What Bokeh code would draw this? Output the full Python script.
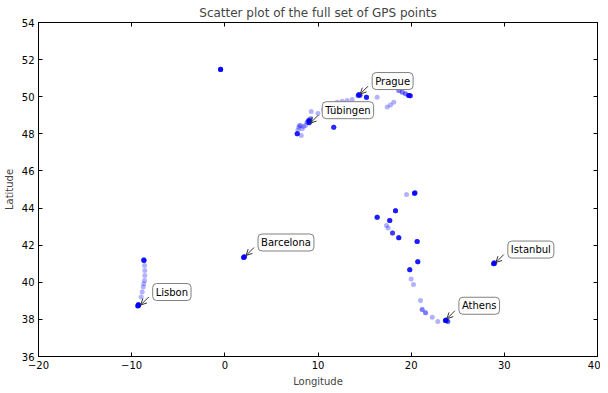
import numpy as np
from bokeh.plotting import figure
from bokeh.models import (ColumnDataSource, LinearAxis, FixedTicker, Label,
                          Arrow, OpenHead, Range1d)
from bokeh.embed import file_html
from bokeh.resources import INLINE

# GPS points: longitude, latitude, number of (overlapping) fixes at that spot
lon = [-0.45, -0.46,
       -9.30, -9.25, -9.34, -9.28,
       -8.62, -8.59, -8.59, -8.62, -8.70, -8.76, -8.87, -8.98,
       -8.68, -8.70,
       2.05, 2.10, 2.00,
       28.85, 28.95, 28.90,
       23.68, 23.75, 23.93,
       20.36, 20.42, 19.50, 18.32, 16.35, 17.70, 17.35, 17.53, 18.00, 18.67,
       20.64, 20.71, 19.85, 20.00, 20.25, 21.00, 21.18, 21.54, 22.26, 22.86,
       7.77, 7.94, 8.12, 8.30, 8.66, 8.20, 8.00, 8.45, 7.85,
       8.84, 9.01, 9.05, 9.19, 9.10, 9.27,
       11.69, 10.00, 10.60, 11.20, 12.06, 12.60, 13.13, 13.67,
       14.38, 14.50, 14.30, 15.20,
       16.35, 17.43, 17.78, 18.13,
       18.67, 19.04, 19.39, 19.74, 19.90]
lat = [51.47, 51.48,
       38.75, 38.78, 38.72, 38.80,
       40.90, 40.63, 40.37, 40.10, 39.92, 39.74, 39.47, 39.20,
       41.17, 41.22,
       41.35, 41.38, 41.33,
       41.00, 41.02, 41.05,
       37.94, 37.97, 37.89,
       44.80, 44.82, 44.73, 43.85, 43.51, 43.33, 43.06, 42.92, 42.65, 42.40,
       42.20, 41.10, 40.67, 40.17, 39.88, 39.02, 38.53, 38.36, 38.12, 37.89,
       48.00, 48.36, 48.45, 48.27, 48.45, 47.91, 48.45, 48.40, 48.20,
       48.63, 48.72, 48.60, 48.81, 48.68, 49.20,
       48.36, 49.10, 49.30, 49.50, 49.70, 49.76, 49.80, 49.85,
       50.10, 50.08, 50.05, 49.97,
       49.97, 49.44, 49.56, 49.70,
       50.34, 50.24, 50.16, 50.07, 50.05]
count = [5, 4,
         6, 4, 4, 3,
         1, 1, 1, 1, 1, 1, 1, 1,
         5, 3,
         5, 4, 3,
         5, 4, 3,
         6, 4, 3,
         6, 3, 1, 6, 6, 6, 1, 1, 4, 6,
         6, 6, 6, 1, 1, 1, 2, 2, 1, 1,
         6, 1, 1, 1, 1, 1, 1, 1, 1,
         2, 5, 5, 2, 3, 1,
         5, 1, 1, 1, 1, 1, 1, 1,
         6, 4, 2, 6,
         1, 1, 1, 1,
         2, 2, 2, 6, 5]

place_names = ["Prague", "Tübingen", "Barcelona", "Lisbon", "Istanbul", "Athens"]
place_lon = [14.42, 9.06, 2.17, -9.14, 28.98, 23.73]
place_lat = [50.09, 48.52, 41.39, 38.72, 41.01, 37.98]

x_ticks = [-20, -10, 0, 10, 20, 30, 40]
x_tick_labels = ["\u221220", "\u221210", "0", "10", "20", "30", "40"]
y_ticks = [36, 38, 40, 42, 44, 46, 48, 50, 52, 54]

X0, X1, Y0, Y1 = -20, 40, 36, 54
FW, FH = 559, 334
FONT = "DejaVu Sans"

xs = np.repeat(np.array(lon), count)
ys = np.repeat(np.array(lat), count)
src = ColumnDataSource(dict(x=xs, y=ys))

p = figure(frame_width=FW, frame_height=FH,
           x_range=Range1d(X0, X1), y_range=Range1d(Y0, Y1),
           output_backend="svg", toolbar_location=None,
           title="Scatter plot of the full set of GPS points",
           min_border_left=30, min_border_right=3,
           min_border_top=4, min_border_bottom=4)
p.background_fill_color = "white"
p.border_fill_color = "white"
p.grid.visible = False
p.outline_line_color = "black"
p.outline_line_width = 1

p.title.text_font = FONT
p.title.text_font_size = "12px"
p.title.text_font_style = "normal"
p.title.align = "center"
p.title.standoff = 6
p.title.offset = 0

def style_axis(ax, ticks, label=None, show_labels=True):
    ax.ticker = FixedTicker(ticks=ticks)
    ax.major_tick_in = 4
    ax.major_tick_out = 0
    ax.minor_tick_in = 0
    ax.minor_tick_out = 0
    ax.axis_line_color = "black"
    ax.major_tick_line_color = "black"
    ax.major_label_text_font = FONT
    ax.major_label_text_color = "black"
    if show_labels:
        ax.major_label_text_font_size = "10px"
        ax.major_label_standoff = 4
    else:
        ax.major_label_overrides = {t: "" for t in ticks}
        ax.major_label_text_color = None
        ax.major_label_text_font_size = "1px"
        ax.major_label_standoff = 0
    if label:
        ax.axis_label = label
        ax.axis_label_text_font = FONT
        ax.axis_label_text_font_size = "10px"
        ax.axis_label_text_font_style = "normal"
        ax.axis_label_standoff = 4

style_axis(p.xaxis[0], x_ticks, "Longitude")
p.xaxis[0].major_label_overrides = {t: s for t, s in zip(x_ticks, x_tick_labels)}
style_axis(p.yaxis[0], y_ticks, "Latitude")

top = LinearAxis()
style_axis(top, x_ticks, show_labels=False)
p.add_layout(top, "above")
right = LinearAxis()
style_axis(right, y_ticks, show_labels=False)
p.add_layout(right, "right")

p.scatter("x", "y", source=src, size=5, fill_color="blue", fill_alpha=0.3,
          line_color=None)

sx = FW / (X1 - X0)
sy = FH / (Y1 - Y0)
for name, lo, la in zip(place_names, place_lon, place_lat):
    p.add_layout(Arrow(x_start=lo + 9 / sx, y_start=la + 9 / sy,
                       x_end=lo + 1 / sx, y_end=la + 1 / sy,
                       line_color="#333333", line_width=1,
                       end=OpenHead(size=6, line_color="#333333", line_width=1)))
    p.add_layout(Label(x=lo, y=la, x_offset=13, y_offset=14, text=name,
                       text_font=FONT, text_font_size="10px",
                       text_align="left", text_baseline="middle",
                       text_color="black",
                       background_fill_color="white",
                       border_line_color="#808080", border_line_width=1,
                       padding=3, border_radius=4))

open("out.html", "w").write(file_html(p, INLINE))
